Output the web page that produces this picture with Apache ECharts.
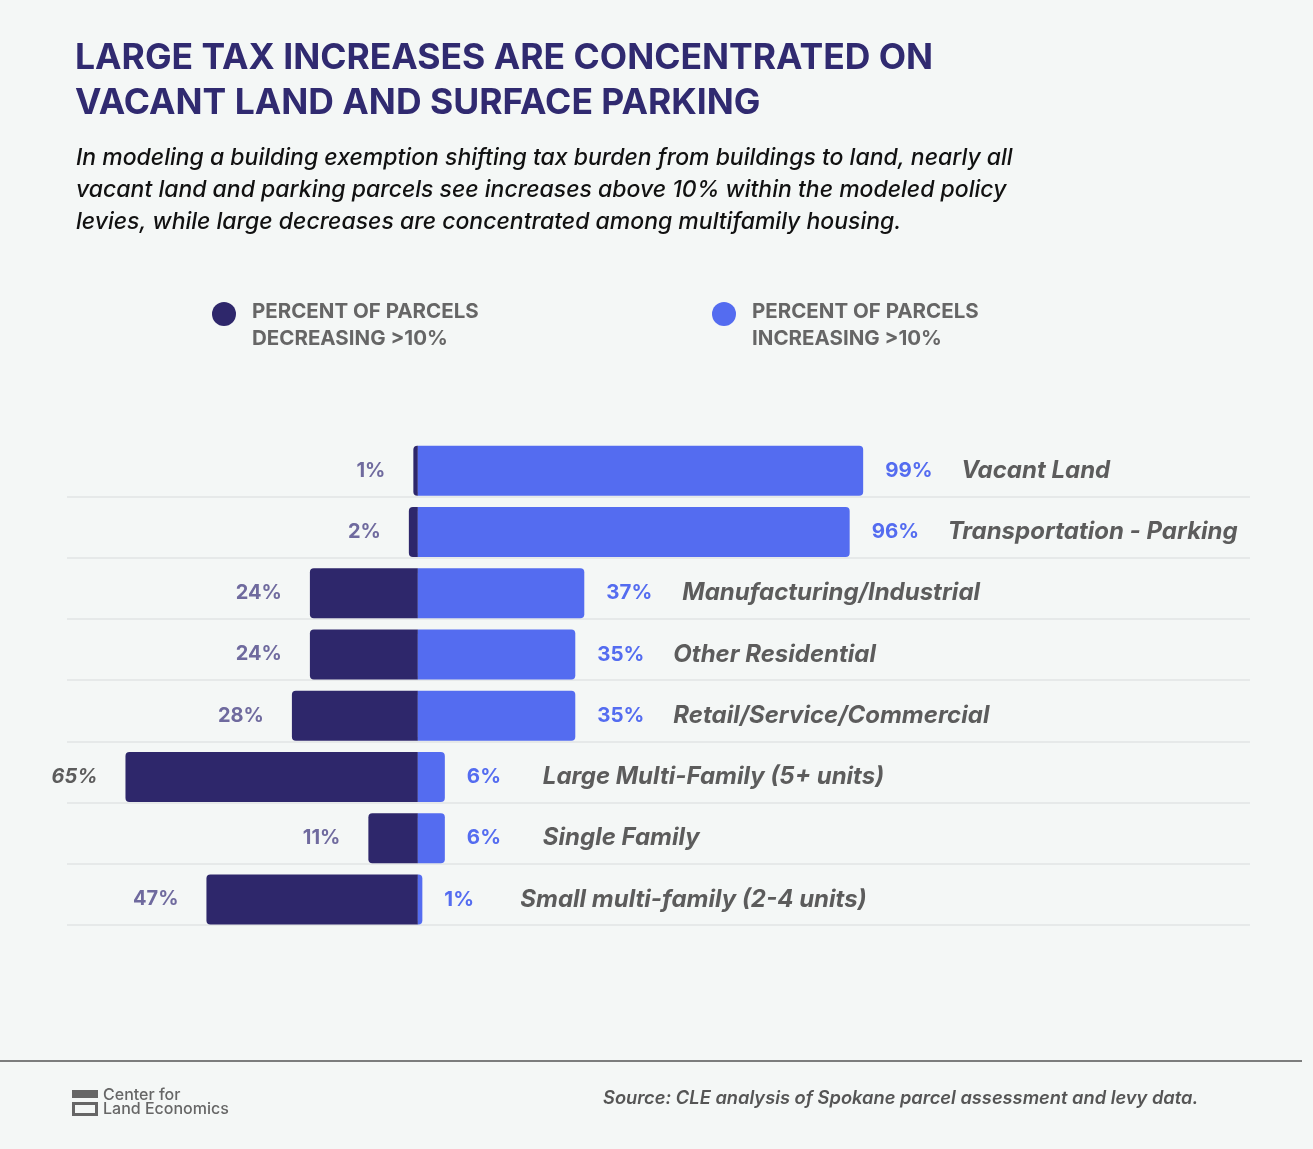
<!DOCTYPE html>
<html>
<head>
<meta charset="utf-8">
<script src="https://cdn.jsdelivr.net/npm/echarts@6/dist/echarts.min.js"></script>
<style>
  html, body { margin: 0; padding: 0; background: #f4f7f6; }
  #chart { width: 1313px; height: 1149px; }
</style>
</head>
<body>
<div id="chart"></div>
<script>
//== data
var categories = ['Vacant Land', 'Transportation - Parking', 'Manufacturing/Industrial', 'Other Residential',
    'Retail/Service/Commercial', 'Large Multi-Family (5+ units)', 'Single Family', 'Small multi-family (2-4 units)'];
var decreasing = [1, 2, 24, 24, 28, 65, 11, 47];
var increasing = [99, 96, 37, 35, 35, 6, 6, 1];
var seriesNames = ['PERCENT OF PARCELS\nDECREASING >10%', 'PERCENT OF PARCELS\nINCREASING >10%'];

var FONT = 'Inter';
var DARK = '#2e276b';
var BLUE = '#546cf0';

var chartBox = function () {
    var myChart = echarts.init(document.getElementById('chart'), null, {renderer: 'canvas'});

    // legend drawn by hand: circle sits on the first text line
    var legendItem = function (x, color, text) {
        return [
            {type: 'circle', shape: {cx: x + 12, cy: 314, r: 12}, style: {fill: color}},
            {type: 'text', left: x + 40, top: 298,
                style: {text: text, fill: '#666', font: 'bold 20.5px Inter', lineHeight: 27}}
        ];
    };

    var option = {
        backgroundColor: '#f4f7f6',
        animation: false,
        textStyle: {fontFamily: FONT},
        title: [{
            text: 'LARGE TAX INCREASES ARE CONCENTRATED ON\nVACANT LAND AND SURFACE PARKING',
            left: 70, top: 31,
            textStyle: {color: '#302a70', fontSize: 35.5, fontWeight: 'bold', lineHeight: 45, fontFamily: FONT}
        }, {
            text: 'In modeling a building exemption shifting tax burden from buildings to land, nearly all\n' +
                'vacant land and parking parcels see increases above 10% within the modeled policy\n' +
                'levies, while large decreases are concentrated among multifamily housing.',
            left: 71, top: 137,
            textStyle: {color: '#111', fontSize: 23, fontWeight: 500, fontStyle: 'italic', lineHeight: 32, fontFamily: FONT}
        }, {
            text: 'Source: CLE analysis of Spokane parcel assessment and levy data.',
            left: 598, top: 1085,
            textStyle: {color: '#555', fontSize: 18.3, fontWeight: 600, fontStyle: 'italic', fontFamily: FONT}
        }],
        legend: {show: false, data: seriesNames},
        grid: [
            {left: 67, right: 63, top: 440, bottom: 219},
            {left: 67, right: 63, top: 435, bottom: 224}
        ],
        xAxis: [{
            gridIndex: 0, type: 'value', min: -78, max: 185, show: false
        }, {
            gridIndex: 1, type: 'value', min: 0, max: 1, show: false
        }],
        yAxis: [{
            gridIndex: 0, type: 'category', data: categories, inverse: true,
            axisLine: {show: false}, axisTick: {show: false}, axisLabel: {show: false}, splitLine: {show: false}
        }, {
            // row separators
            gridIndex: 1, type: 'value', min: 0, max: categories.length, interval: 1, inverse: true,
            axisLine: {show: false}, axisTick: {show: false}, axisLabel: {show: false},
            splitLine: {show: true, showMinLine: false, lineStyle: {color: '#e2e5e4', width: 1.5}}
        }],
        series: [{
            name: seriesNames[0],
            type: 'bar',
            xAxisIndex: 0, yAxisIndex: 0,
            data: decreasing.map(function (v) { return -v; }),
            barWidth: 50,
            barGap: '-100%',
            itemStyle: {color: DARK, borderRadius: [4, 0, 0, 4]},
            label: {
                show: true, position: 'left', distance: 28,
                formatter: function (p) {
                    var v = Math.abs(p.value);
                    return v > 60 ? '{o|' + v + '%}' : '{d|' + v + '%}';
                },
                rich: {
                    d: {color: '#6f6a9e', fontSize: 20, fontWeight: 'bold', fontFamily: FONT},
                    o: {color: '#5c5c5c', fontSize: 20, fontWeight: 'bold', fontStyle: 'italic', fontFamily: FONT}
                }
            }
        }, {
            name: seriesNames[1],
            type: 'bar',
            xAxisIndex: 0, yAxisIndex: 0,
            data: increasing,
            barWidth: 50,
            barGap: '-100%',
            itemStyle: {color: BLUE, borderRadius: [0, 4, 4, 0]},
            label: {
                show: true, position: 'right', distance: 22,
                formatter: function (p) {
                    return '{v|' + p.value + '%}{c|' + p.name + '}';
                },
                rich: {
                    v: {color: BLUE, fontSize: 20.5, fontWeight: 'bold', width: 76, align: 'left', fontFamily: FONT},
                    c: {color: '#5c5c5c', fontSize: 24, fontWeight: 'bold', fontStyle: 'italic', fontFamily: FONT}
                }
            }
        }],
        graphic: [].concat(
            legendItem(212, DARK, seriesNames[0]),
            legendItem(712, BLUE, seriesNames[1]),
            [
                // footer rule
                {type: 'line', shape: {x1: 0, y1: 1061, x2: 1302, y2: 1061}, style: {stroke: '#555', lineWidth: 1.5}},
                // logo
                {type: 'rect', shape: {x: 72, y: 1090, width: 26, height: 8}, style: {fill: '#666'}},
                {type: 'rect', shape: {x: 73.5, y: 1103.5, width: 23, height: 11}, style: {fill: 'none', stroke: '#666', lineWidth: 3}},
                {type: 'text', left: 103, top: 1087, style: {text: 'Center for\nLand Economics', fill: '#666', font: '500 16px Inter', lineHeight: 14}}
            ]
        )
    };
    myChart.setOption(option, true);
};

chartBox();
</script>
</body>
</html>
